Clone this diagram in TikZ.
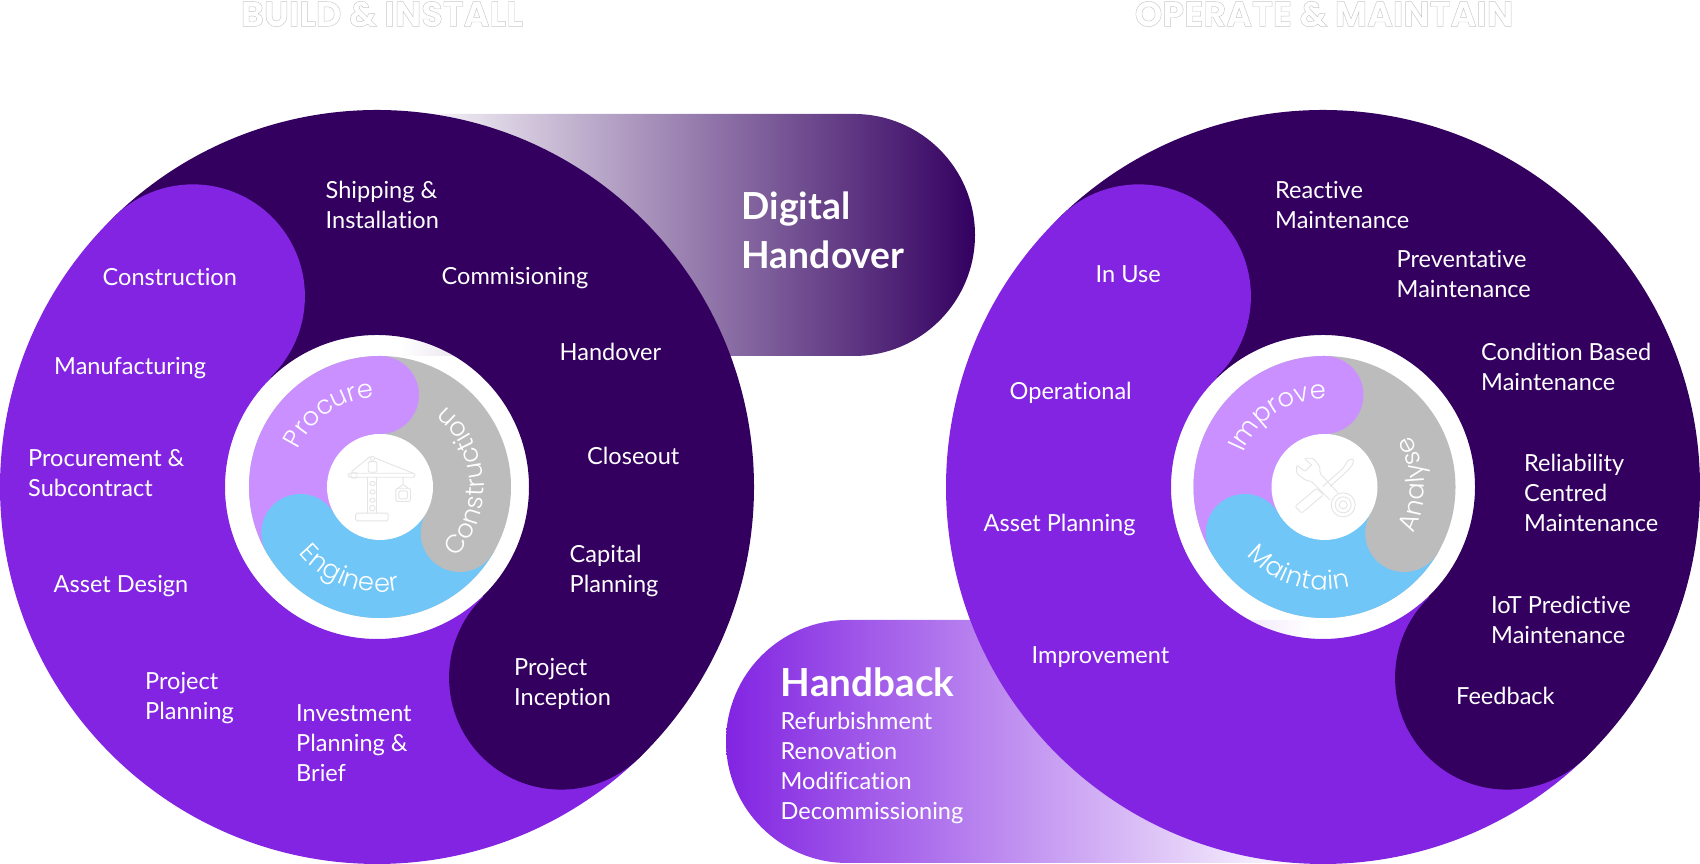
\documentclass[tikz,border=0pt]{standalone}
\usepackage{fontspec}
\setmainfont[Ligatures=NoCommon]{Lato}
\newfontfamily\ringfont{Poppins Light}
\newfontfamily\titlefont{Poppins}
\usetikzlibrary{decorations.text}
\definecolor{spiraldark}{HTML}{330060}
\definecolor{spiralpurple}{HTML}{8224E2}
\definecolor{ringlilac}{HTML}{CB90FF}
\definecolor{ringgrey}{HTML}{BCBCBC}
\definecolor{ringblue}{HTML}{70C6F7}
\definecolor{iconline}{HTML}{E4E4E4}
\newcommand{\outlinetext}[1]{\special{pdf:code q 1 Tr 0.13 w 0.78 G}#1\special{pdf:code Q}}
\newcommand{\ringstyle}{\ringfont\fontsize{7.3}{9}\selectfont\color{white}}
\newcommand{\gp}[1]{#1\kern0.15pt}
\tikzset{
    steplabel/.style={text=white, align=left, anchor=west, inner sep=0pt, font=\fontsize{6.7}{8.6}\selectfont},
    biglabel/.style={text=white, align=left, anchor=west, inner sep=0pt, font=\fontsize{10.6}{14}\selectfont\bfseries},
    headlabel/.style={inner sep=0pt, font=\fontsize{10}{12}\selectfont\titlefont\bfseries},
    ringtext/.style={decorate, decoration={text along path, text align=center, text={#1}}},
    iconstroke/.style={draw=iconline, line width=0.25pt, rounded corners=0.4pt},
}
\begin{document}
\begin{tikzpicture}
    \useasboundingbox (0,0) rectangle (17,8.64);
    % capsules sit under the discs
    \shade[left color=white, right color=spiraldark] (4.00,7.50) -- (8.54,7.50) arc (90:-90:1.21) -- (4.00,5.08) -- cycle;
    \shade[left color=spiralpurple, right color=white] (13.10,2.44) -- (8.475,2.44) arc (90:270:1.215) -- (13.10,0.01) -- cycle;
    % discs
    \foreach \cx/\rx in {3.77/3.80, 13.23/13.245} {
        \fill[spiralpurple] ([shift={(134:3.77)}]\cx,3.77) arc (134:314:3.77) -- ([shift={(314:1.52)}]\cx,3.77) arc (314:134:1.52) -- cycle;
        \fill[spiraldark] ([shift={(134:3.77)}]\cx,3.77) arc (134:-46:3.77) -- ([shift={(-46:1.52)}]\cx,3.77) arc (-46:134:1.52) -- cycle;
        \fill[spiralpurple] ([shift={(134:2.65)}]\cx,3.77) circle (1.12);
        \fill[spiraldark] ([shift={(-46:2.65)}]\cx,3.77) circle (1.12);
        % inner ring
        \fill[ringgrey] (\rx,3.77) circle (1.31);
        \fill[ringlilac] (\rx,3.77) -- ++(90:1.31) arc (90:210:1.31) -- cycle;
        \fill[ringblue] (\rx,3.77) -- ++(210:1.31) arc (210:330:1.31) -- cycle;
        \fill[ringlilac] ([shift={(90:0.92)}]\rx,3.77) circle (0.39);
        \fill[ringblue] ([shift={(210:0.92)}]\rx,3.77) circle (0.39);
        \fill[ringgrey] ([shift={(-30:0.92)}]\rx,3.77) circle (0.39);
        \fill[white] (\rx,3.77) circle (0.53);
    }
    % ring words
    \path[ringtext={|\ringstyle|Procure}] ([shift={(157:0.90)}]3.80,3.77) arc (157:92:0.90);
    \path[ringtext={|\ringstyle|{\gp E}{\gp n}{\gp g}{\gp i}{\gp n}{\gp e}{\gp e}r}] ([shift={(210:1.05)}]3.80,3.77) arc (210:290:1.05);
    \path[ringtext={|\ringstyle|{\gp C}{\gp o}{\gp n}{\gp s}{\gp t}{\gp r}{\gp u}{\gp c}{\gp t}{\gp i}{\gp o}n}] ([shift={(-50:1.04)}]3.80,3.77) arc (-50:58:1.04);
    \path[ringtext={|\ringstyle|Improve}] ([shift={(163:0.88)}]13.245,3.77) arc (163:83:0.88);
    \path[ringtext={|\ringstyle|{\gp M}{\gp a}{\gp i}{\gp n}{\gp t}{\gp a}{\gp i}n}] ([shift={(211:1.03)}]13.245,3.77) arc (211:295:1.03);
    \path[ringtext={|\ringstyle|{\gp A}{\gp n}{\gp a}{\gp l}{\gp y}{\gp s}e}] ([shift={(-35:1.00)}]13.245,3.77) arc (-35:39:1.00);
    % crane
    \begin{scope}[shift={(3.35,4.19)}, x=0.00333cm, y=-0.00333cm]
        \draw[iconstroke] (40,85) rectangle (240,97);
        \draw[iconstroke] (48,82) rectangle (66,100);
        \draw[iconstroke] (100,50) rectangle (126,82);
        \draw[iconstroke] (106,34) rectangle (118,46);
        \draw[iconstroke] (50,80) -- (105,35) (118,38) -- (235,85);
        \draw[iconstroke] (98,97) -- (98,205) (126,97) -- (126,205);
        \draw[iconstroke] (105,110) rectangle (120,122) (105,135) rectangle (120,147) (105,160) rectangle (120,172) (105,182) rectangle (120,198);
        \draw[iconstroke] (62,205) rectangle (160,228);
        \draw[iconstroke] (205,97) -- (205,118) (190,130) -- (205,118) -- (220,130);
        \draw[iconstroke] (183,130) rectangle (227,170) (192,138) rectangle (218,162);
    \end{scope}
    % spanner and screwdriver
    \begin{scope}[shift={(12.80,4.19)}, x=0.00333cm, y=-0.00333cm]
        \draw[iconstroke] (45,185) -- (110,130) -- (130,150) -- (65,205) -- cycle;
        \draw[iconstroke] (128,125) -- (190,70) -- (205,45) -- (222,42) -- (218,60) -- (195,85) -- (150,125);
        \draw[iconstroke] (95,60) -- (72,40) -- (100,40) -- (120,65) -- (120,85) -- (175,145) (150,165) -- (95,110) -- (75,105) -- (50,85) -- (50,60) -- (75,80) -- (95,60);
        \draw[iconstroke] (190,180) circle (36) (190,180) circle (24) (190,180) circle (12);
    \end{scope}
    % left disc labels
    \node[steplabel] (shipping) at (3.25,6.59) {Shipping \&\\Installation};
    \node[steplabel] (commisioning) at (4.41,5.86) {Commisioning};
    \node[steplabel] (handover) at (5.59,5.12) {Handover};
    \node[steplabel] (closeout) at (5.865,4.08) {Closeout};
    \node[steplabel] (capital) at (5.69,2.93) {Capital\\Planning};
    \node[steplabel] (inception) at (5.135,1.80) {Project\\Inception};
    \node[steplabel] (investment) at (2.955,1.21) {Investment\\Planning \&\\Brief};
    \node[steplabel] (projplan) at (1.445,1.66) {Project\\Planning};
    \node[steplabel] (assetdesign) at (0.53,2.78) {Asset Design};
    \node[steplabel] (procurement) at (0.275,3.91) {Procurement \&\\Subcontract};
    \node[steplabel] (manufacturing) at (0.535,4.96) {Manufacturing};
    \node[steplabel] (construction) at (1.02,5.87) {Construction};
    % right disc labels
    \node[steplabel] (reactive) at (12.745,6.59) {Reactive\\Maintenance};
    \node[steplabel] (preventative) at (13.96,5.90) {Preventative\\Maintenance};
    \node[steplabel] (condition) at (14.805,4.97) {Condition Based\\Maintenance};
    \node[steplabel] (reliability) at (15.235,3.71) {Reliability\\Centred\\Maintenance};
    \node[steplabel] (iot) at (14.905,2.44) {IoT Predictive\\Maintenance};
    \node[steplabel] (feedback) at (14.555,1.68) {Feedback};
    \node[steplabel] (inuse) at (10.95,5.90) {In Use};
    \node[steplabel] (operational) at (10.09,4.71) {Operational};
    \node[steplabel] (assetplan) at (9.83,3.39) {Asset Planning};
    \node[steplabel] (improvement) at (10.31,2.07) {Improvement};
    % capsule labels
    \node[biglabel] (digital) at (7.41,6.34) {Digital\\Handover};
    \node[biglabel, font=\fontsize{11}{14}\selectfont\bfseries] (handback) at (7.80,1.82) {Handback};
    \node[steplabel] (handbacklist) at (7.80,0.96) {Refurbishment\\Renovation\\Modification\\Decommissioning};
    % headings
    \node[headlabel] (buildhead) at (3.82,8.50) {\outlinetext{BUILD \& INSTALL}};
    \node[headlabel] (operatehead) at (13.24,8.50) {\outlinetext{OPERATE \& MAINTAIN}};
\end{tikzpicture}
\end{document}
